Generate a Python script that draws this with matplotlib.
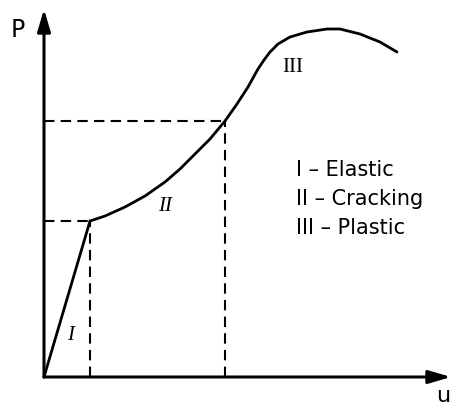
import numpy as np
import matplotlib
matplotlib.use("Agg")
import matplotlib.pyplot as plt

# load-displacement curve (u, P in arbitrary units)
u_elastic = [0.0, 4.6]
p_elastic = [0.0, 15.6]
u_curve = [4.6, 6.1, 8.1, 10.1, 12.1, 13.6, 14.6, 16.6, 18.1, 19.3, 20.4, 21.4, 22.0, 22.6,
           23.4, 24.6, 26.3, 28.3, 29.6, 31.6, 33.6, 35.3]
p_curve = [15.6, 16.1, 17.0, 18.1, 19.5, 20.8, 21.8, 23.8, 25.6, 27.3, 29.0, 30.8, 31.7, 32.5,
           33.3, 34.0, 34.5, 34.8, 34.8, 34.3, 33.5, 32.5]
# points marked with dashed guides
u_marks = [4.6, 18.1]
p_marks = [15.6, 25.6]
stage_labels = ["I", "II", "III"]
stage_pos = [(2.7, 4.2), (12.1, 17.1), (24.9, 31.1)]
legend_lines = ["I – Elastic", "II – Cracking", "III – Plastic"]

fig = plt.figure(figsize=(4.53, 4.10), dpi=100)
ax = fig.add_axes([0, 0, 1, 1])
ax.set_xlim(-4.4, 40.9)
ax.set_ylim(-3.2, 37.8)
ax.axis("off")

# axes with arrows
arrow = dict(arrowstyle="-|>,head_length=0.75,head_width=0.22", color="black",
             lw=2.2, mutation_scale=18, shrinkA=0, shrinkB=0)
ax.annotate("", xy=(40.7, 0), xytext=(0, 0), arrowprops=arrow)
ax.annotate("", xy=(0, 36.8), xytext=(0, 0), arrowprops=arrow)
ax.text(-2.6, 34.8, "P", fontsize=17, ha="center", va="center")
ax.text(39.9, -2.45, "u", fontsize=16, ha="center", va="baseline")

# dashed guides
for um, pm in zip(u_marks, p_marks):
    ax.plot([0, um], [pm, pm], color="black", lw=1.5, ls=(0, (5, 3)))
    ax.plot([um, um], [0, pm], color="black", lw=1.5, ls=(0, (5, 3)))

ax.plot(u_elastic, p_elastic, color="black", lw=2, solid_capstyle="round")
ax.plot(u_curve, p_curve, color="black", lw=2, solid_capstyle="round", solid_joinstyle="round")

for lab, (x, y) in zip(stage_labels, stage_pos):
    ax.text(x, y, lab, fontsize=15, family="Liberation Serif",
            style="italic" if lab != "III" else "normal", ha="center", va="center")

for i, line in enumerate(legend_lines):
    ax.text(25.2, 20.8 - i * 2.9, line, fontsize=15, ha="left", va="center")

fig.savefig("out.png", dpi=100)
